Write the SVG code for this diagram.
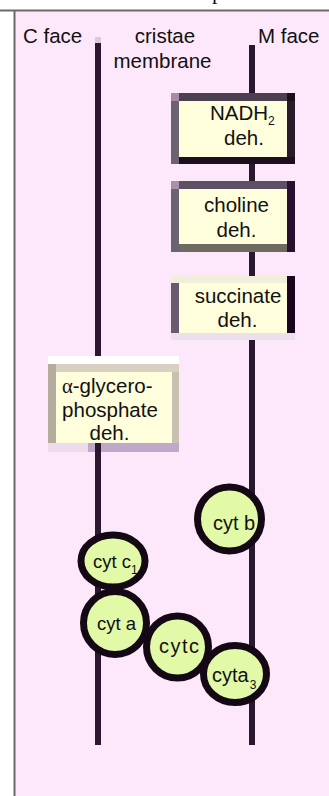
<svg xmlns="http://www.w3.org/2000/svg" width="329" height="796" viewBox="0 0 329 796">
<style>
  .t{font-family:"Liberation Sans",Arial,sans-serif;font-size:20.5px;fill:#111}
  .c{font-family:"Liberation Sans",Arial,sans-serif;font-size:20px;fill:#111}
  .sm{font-size:18.5px}
  .s{font-size:12px}
  .m{text-anchor:middle}
  .cyt{fill:#e2f9a8;stroke:#140814;stroke-width:7}
  .mem{fill:#2a1830}
  .cream{fill:#fefedc}
</style>
<rect x="0" y="0" width="329" height="796" fill="#ffffff"/>
<text x="212" y="-1" font-family="Liberation Serif,serif" font-size="22" fill="#111">p</text>
<rect x="14" y="10" width="315" height="786" fill="#fde8fb"/>
<line x1="0" y1="10.5" x2="329" y2="10.5" stroke="#6a6a6a" stroke-width="2"/>
<line x1="14.5" y1="10" x2="14.5" y2="796" stroke="#6a6a6a" stroke-width="2"/>
<g id="labels">
  <text class="t" x="23" y="43">C face</text>
  <text class="t m" x="165" y="43">cristae</text>
  <text class="t m" x="162.5" y="68">membrane</text>
  <text class="t" x="258" y="43">M face</text>
</g>
<g id="connectors">
  <rect x="95" y="37" width="6" height="6" fill="#dcc8dc"/>
  <rect class="mem" x="95" y="43" width="6" height="702"/>
  <rect class="mem" x="249" y="45" width="6" height="700"/>
</g>
<g id="nadh">
  <rect x="171" y="93" width="124" height="71" fill="#1c0e1c"/>
  <rect x="179" y="93" width="108" height="8" fill="#4d3f52"/>
  <rect x="171" y="93" width="8" height="71" fill="#6b6470"/>
  <rect x="171" y="93" width="8" height="8" fill="#a88aa8"/>
  <rect x="287" y="101" width="8" height="56" fill="#2a1a2a"/>
  <rect class="cream" x="179" y="101" width="108" height="56"/>
  <text class="t" x="210" y="120">NADH<tspan class="s" dy="5">2</tspan></text>
  <text class="t m" x="244" y="145">deh.</text>
</g>
<g id="choline">
  <rect x="171" y="181" width="124" height="71" fill="#2a1030"/>
  <rect x="179" y="181" width="108" height="8" fill="#5c5062"/>
  <rect x="179" y="244" width="108" height="8" fill="#6e6a62"/>
  <rect x="171" y="181" width="8" height="71" fill="#6a6470"/>
  <rect x="171" y="181" width="8" height="8" fill="#a890a8"/>
  <rect class="cream" x="179" y="189" width="108" height="55"/>
  <text class="t m" x="236.5" y="212">choline</text>
  <text class="t m" x="236.5" y="237">deh.</text>
</g>
<g id="succinate">
  <rect x="171" y="276" width="124" height="64" fill="#f2eedc"/>
  <rect x="171" y="333" width="124" height="7" fill="#ece0ec"/>
  <rect x="171" y="283" width="8" height="50" fill="#6a5a70"/>
  <rect x="287" y="276" width="8" height="57" fill="#1a0520"/>
  <rect class="cream" x="179" y="283" width="108" height="50"/>
  <text class="t m" x="238" y="303">succinate</text>
  <text class="t m" x="237.5" y="327">deh.</text>
</g>
<g id="glycerophosphate">
  <rect x="48" y="356" width="131" height="8" fill="#ffffff"/>
  <rect x="48" y="364" width="131" height="88" fill="#c8c0b0"/>
  <rect x="48" y="364" width="131" height="8" fill="#d8d0c0"/>
  <rect x="48" y="364" width="8" height="88" fill="#b4ac9c"/>
  <rect x="48" y="443" width="131" height="9" fill="#c0a8c8"/>
  <rect x="48" y="443" width="40" height="9" fill="#ecdcec"/>
  <rect x="95" y="443" width="6" height="9" fill="#2a1830"/>
  <rect class="cream" x="56" y="372" width="116" height="71"/>
  <text class="t" x="62" y="393"><tspan font-family="Liberation Serif,serif">α</tspan>-glycero-</text>
  <text class="t m" x="110" y="417">phosphate</text>
  <text class="t m" x="109.5" y="440">deh.</text>
</g>
<g id="cytb">
  <circle class="cyt" cx="229.5" cy="519" r="32"/>
  <text class="c" x="213" y="530">cyt b</text>
</g>
<g id="cytc1">
  <ellipse class="cyt" cx="113" cy="561" rx="32" ry="26"/>
  <text class="c sm" x="93" y="568">cyt c<tspan class="s" dy="6">1</tspan></text>
</g>
<g id="cyta">
  <circle class="cyt" cx="115" cy="623" r="31.5"/>
  <text class="c sm" x="97" y="630">cyt a</text>
</g>
<g id="cytc">
  <circle class="cyt" cx="177.5" cy="647" r="31"/>
  <text class="c" x="159" y="653" letter-spacing="1.5">cytc</text>
</g>
<g id="cyta3">
  <ellipse class="cyt" cx="235" cy="674" rx="31.5" ry="28.5"/>
  <text class="c" x="212" y="682">cyta<tspan class="s" dy="7" dx="1">3</tspan></text>
</g>
</svg>
